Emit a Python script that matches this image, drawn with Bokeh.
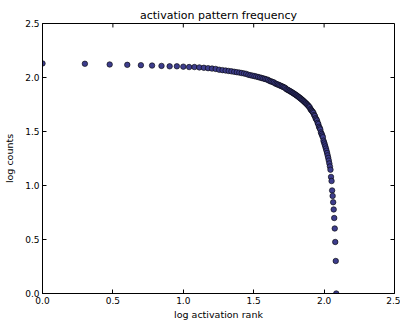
import numpy as np
from bokeh.plotting import figure
from bokeh.models import Range1d, FixedTicker, PrintfTickFormatter
from bokeh.embed import file_html
from bokeh.resources import INLINE

# activation pattern counts, ordered by rank
counts = [135, 134, 132, 131, 130, 129, 128, 127, 127, 126, 125, 125,
          124, 123, 122, 121, 120, 118, 117, 116, 115, 114,
          113, 112, 111, 110, 109, 108, 106, 105,
          104, 103, 102, 101, 100, 99, 98, 97, 96, 95,
          93, 92, 91, 90, 88, 87, 86, 85, 84, 83, 82, 81, 80, 78, 77, 76,
          75, 74, 73, 72, 71, 70, 69, 68, 67, 66,
          65, 64, 63, 62, 61, 60, 59, 58, 57, 56, 55, 54,
          53, 51, 50, 49, 48, 47, 45, 44, 42, 41, 40, 38, 37, 35,
          34, 33, 31, 30, 29, 28, 26,
          25, 24, 23, 22, 21, 20, 19,
          18, 17, 16, 15, 14, 12, 11,
          9, 8, 7, 6, 5, 4, 3, 2, 1]
ranks = list(range(1, len(counts) + 1))

tick_values = [0.0, 0.5, 1.0, 1.5, 2.0, 2.5]
x_lo, x_hi = 0.0, 2.5
y_lo, y_hi = 0.0, 2.5

log_rank = np.log10(ranks)
log_count = np.log10(counts)

FONT = "DejaVu Sans"
W, H = 400, 322
BL, BR, BT, BB = 42, 6, 23, 27
TICK = 4

p = figure(width=W, height=H, output_backend="svg", toolbar_location=None,
           x_range=Range1d(x_lo, x_hi), y_range=Range1d(y_lo, y_hi),
           title="activation pattern frequency",
           min_border_left=BL, min_border_right=BR, min_border_top=BT, min_border_bottom=BB)
p.title.align = "center"
p.title.text_font = FONT
p.title.text_font_style = "normal"
p.title.text_font_size = "11px"
p.title.text_color = "black"
p.title.standoff = 3

p.xgrid.visible = False
p.ygrid.visible = False
p.outline_line_color = "black"
p.outline_line_width = 1
p.background_fill_color = "white"
p.border_fill_color = "white"

for ax in (p.xaxis[0], p.yaxis[0]):
    ax.ticker = FixedTicker(ticks=tick_values)
    ax.formatter = PrintfTickFormatter(format="%.1f")
    ax.major_tick_in = TICK
    ax.major_tick_out = 0
    ax.minor_tick_line_color = None
    ax.major_label_text_font = FONT
    ax.major_label_text_font_size = "9px"
    ax.major_label_text_color = "black"
    ax.axis_label_text_font = FONT
    ax.axis_label_text_font_size = "9.5px"
    ax.axis_label_text_font_style = "normal"
    ax.axis_label_text_color = "black"
    ax.axis_line_color = "black"
    ax.major_tick_line_color = "black"
    ax.major_label_standoff = 3

p.xaxis.axis_label = "log activation rank"
p.yaxis.axis_label = "log counts"
p.xaxis.axis_label_standoff = 2
p.yaxis.axis_label_standoff = 7

# inward ticks on the top and right edges of the frame
frame_w = W - BL - BR
frame_h = H - BT - BB
dx = TICK * (x_hi - x_lo) / frame_w
dy = TICK * (y_hi - y_lo) / frame_h
p.segment(x0=tick_values, y0=[y_hi] * len(tick_values),
          x1=tick_values, y1=[y_hi - dy] * len(tick_values),
          line_color="black", line_width=1)
p.segment(x0=[x_hi] * len(tick_values), y0=tick_values,
          x1=[x_hi - dx] * len(tick_values), y1=tick_values,
          line_color="black", line_width=1)

p.scatter(log_rank, log_count, size=5.5, marker="circle",
          fill_color="#3d3d8c", line_color="black", line_width=0.6)

open("out.html", "w").write(file_html(p, INLINE))
